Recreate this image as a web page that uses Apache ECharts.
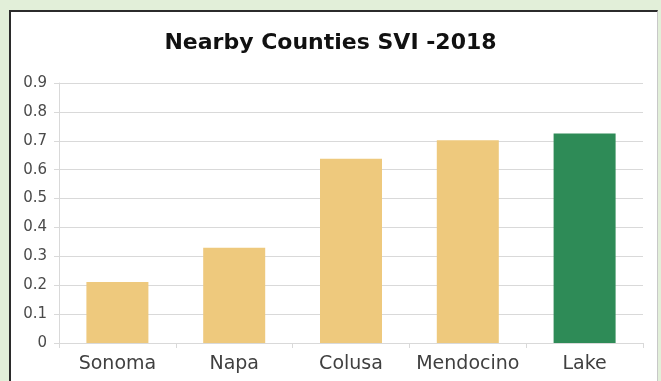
<!DOCTYPE html>
<html>
<head>
<meta charset="utf-8">
<script src="https://cdn.jsdelivr.net/npm/echarts@6/dist/echarts.min.js"></script>
<style>
  html, body {
    margin: 0;
    padding: 0;
    width: 661px;
    height: 381px;
    overflow: hidden;
    background: #e2efd9;
  }
  .frame {
    position: absolute;
    left: 9px;
    top: 10px;
    width: 646px;
    height: 380px;
    background: #ffffff;
    border-left: 2px solid #2b2b2b;
    border-top: 2px solid #2b2b2b;
    border-right: 1px solid #c8c8c8;
  }
  #chart {
    position: absolute;
    left: 0;
    top: 0;
    width: 661px;
    height: 381px;
  }
</style>
</head>
<body>
<div class="frame"></div>
<div id="chart"></div>
<script>
// counties and their SVI values (2018)
var counties = ['Sonoma', 'Napa', 'Colusa', 'Mendocino', 'Lake']
var sviValues = [0.211, 0.330, 0.638, 0.702, 0.725]
var yTicks = [0, 0.1, 0.2, 0.3, 0.4, 0.5, 0.6, 0.7, 0.8, 0.9]
var highlighted = 'Lake'

var fontFamily = 'DejaVu Sans'
var chart = echarts.init(document.getElementById('chart'), null, { renderer: 'canvas' })

var barData = sviValues.map(function (v, i) {
  return {
    value: v,
    itemStyle: { color: counties[i] === highlighted ? '#2e8b57' : '#eec97d' }
  }
})

chart.setOption({
  animation: false,
  backgroundColor: 'transparent',
  title: {
    text: 'Nearby Counties SVI -2018',
    left: 'center',
    top: 27,
    textStyle: {
      fontFamily: fontFamily,
      fontSize: 22,
      fontWeight: 'bold',
      color: '#111111'
    }
  },
  grid: {
    left: 59,
    right: 18,
    top: 83,
    bottom: 38
  },
  xAxis: {
    type: 'category',
    data: counties,
    axisLine: { lineStyle: { color: '#d9d9d9', width: 1 } },
    axisTick: { show: true, length: 5, lineStyle: { color: '#d9d9d9' } },
    axisLabel: {
      interval: 0,
      hideOverlap: false,
      margin: 12,
      fontFamily: fontFamily,
      fontSize: 19,
      color: '#404040'
    }
  },
  yAxis: {
    type: 'value',
    min: yTicks[0],
    max: yTicks[yTicks.length - 1],
    interval: 0.1,
    axisLine: { show: true, lineStyle: { color: '#d9d9d9', width: 1 } },
    axisTick: { show: true, length: 5, lineStyle: { color: '#d9d9d9' } },
    splitLine: { lineStyle: { color: '#d9d9d9', width: 1 } },
    axisLabel: {
      margin: 12,
      fontFamily: fontFamily,
      fontSize: 15,
      color: '#4a4a4a',
      formatter: function (v) {
        return String(Math.round(v * 10) / 10)
      }
    }
  },
  series: [
    {
      type: 'bar',
      data: barData,
      barWidth: 62
    }
  ]
})
</script>
</body>
</html>
